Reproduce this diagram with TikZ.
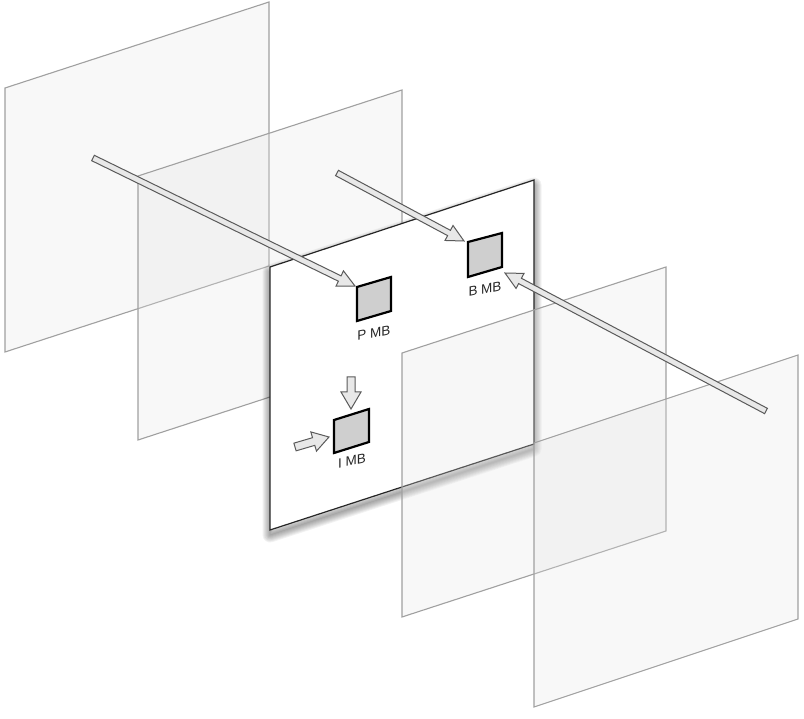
\documentclass[tikz,border=0pt]{standalone}
\usepackage{fontspec}
\setmainfont{Liberation Sans}
\usetikzlibrary{calc}
\definecolor{planeedge}{HTML}{A0A0A0}
\definecolor{planefill}{HTML}{E4E4E4}
\definecolor{arrowedge}{HTML}{5A5A5A}
\definecolor{arrowfill}{HTML}{E8E8E8}
\definecolor{mbfill}{HTML}{CFCFCF}
\newcommand\fatarr[5]{%
  \coordinate (tmpH) at ($(#2)!#5!(#1)$);
  \draw[arrowsty] ($(#1)!#3!90:(#2)$) -- ($(tmpH)!#3!90:(#2)$) -- ($(tmpH)!#4!90:(#2)$) -- (#2)
     -- ($(tmpH)!#4!-90:(#2)$) -- ($(tmpH)!#3!-90:(#2)$) -- ($(#1)!#3!-90:(#2)$) -- cycle;
}
\begin{document}
\begin{tikzpicture}[x=1pt,y=-1pt,
  plane/.style={draw=planeedge, line width=1.1pt, fill=planefill, fill opacity=0.27, line join=miter},
  curplane/.style={draw=black!85, line width=1.2pt, fill=white},
  arrowsty/.style={draw=arrowedge, line width=1pt, fill=arrowfill, line join=miter},
  mbbox/.style={draw=black, line width=2.2pt, fill=mbfill, line join=miter},
  lbl/.style={font=\fontsize{13.5}{14}\selectfont, inner sep=0pt, text=black!85}]
\useasboundingbox (0,0) rectangle (804,719);
% back planes
\draw[plane] (5,88) -- (269,2) -- (269,266) -- (5,352) -- cycle;
\draw[plane] (138,176) -- (402,90) -- (402,354) -- (138,440) -- cycle;
% shadow of current frame
\foreach \w in {1,3,...,15} {
  \draw[line width=\w pt, draw=black, draw opacity=0.05, line join=round]
    (270,272) -- (534,185) -- (534,449) -- (270,535) -- cycle;
}
% current frame
\draw[curplane] (270,267) -- (534,180) -- (534,444) -- (270,530) -- cycle;
% macroblocks
\draw[mbbox] (357,287) -- (391,277) -- (391,311) -- (357,321) -- cycle;
\draw[mbbox] (468,242) -- (502,233) -- (502,267) -- (468,277) -- cycle;
\draw[mbbox] (334,420) -- (369,409) -- (369,442) -- (334,453) -- cycle;
\node[lbl, yslant=0.2] (plab) at (374,333) {P MB};
\node[lbl, yslant=0.2] (blab) at (485,289) {B MB};
\node[lbl, yslant=0.2] (ilab) at (352,461) {I MB};
% front planes
\draw[plane] (402,353) -- (666,267) -- (666,531) -- (402,617) -- cycle;
\draw[plane] (534,443) -- (798,355) -- (798,619) -- (534,707) -- cycle;
% arrows
\coordinate (a1s) at (93,158);  \coordinate (a1e) at (355,286);
\coordinate (a2s) at (337,173); \coordinate (a2e) at (464,241);
\coordinate (a3s) at (766,411); \coordinate (a3e) at (505,273);
\coordinate (a4s) at (351,377); \coordinate (a4e) at (351,409);
\coordinate (a5s) at (295,447); \coordinate (a5e) at (329,437);
\fatarr{a1s}{a1e}{3pt}{8.5pt}{17pt}
\fatarr{a2s}{a2e}{3pt}{8.5pt}{17pt}
\fatarr{a3s}{a3e}{3pt}{8.5pt}{17pt}
\fatarr{a4s}{a4e}{4pt}{10pt}{17pt}
\fatarr{a5s}{a5e}{4pt}{10pt}{16pt}
\end{tikzpicture}
\end{document}
